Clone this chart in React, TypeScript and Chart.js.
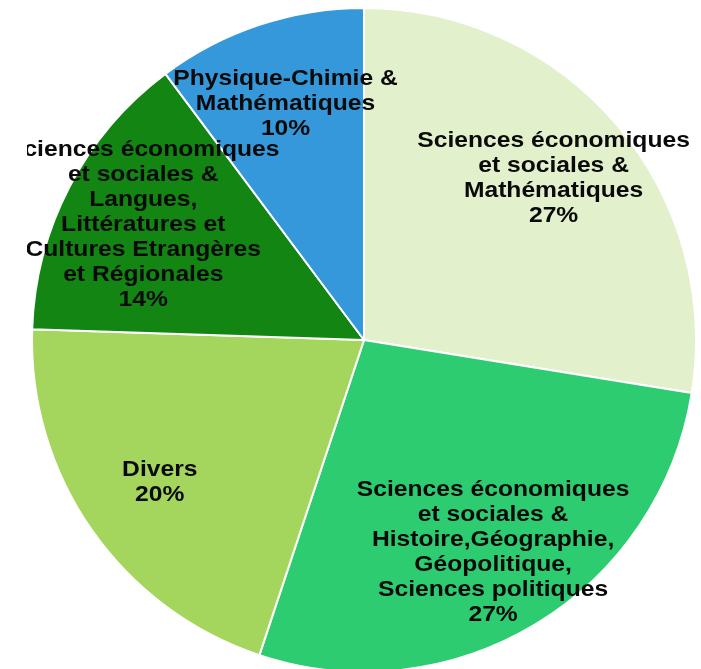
import React, { useEffect, useRef } from "react";
import { Chart, registerables } from "chart.js";

Chart.register(...registerables);

const categories: string[][] = [
  ["Sciences économiques", "et sociales &", "Mathématiques"],
  ["Sciences économiques", "et sociales &", "Histoire,Géographie,", "Géopolitique,", "Sciences politiques"],
  ["Divers"],
  ["Sciences économiques", "et sociales &", "Langues,", "Littératures et", "Cultures Etrangères", "et Régionales"],
  ["Physique-Chimie &", "Mathématiques"],
];
const values: number[] = [27, 27, 20, 14, 10];
const percentLabels: string[] = ["27%", "27%", "20%", "14%", "10%"];
const colors: string[] = ["#e2f0cc", "#2ecc71", "#a4d65e", "#128512", "#3498db"];

const labelPlugin = {
  id: "sliceLabels",
  afterDatasetsDraw(chart: any) {
    const ctx = chart.ctx;
    const meta = chart.getDatasetMeta(0);
    ctx.save();
    ctx.font = "bold 22px 'Liberation Sans', Arial, sans-serif";
    ctx.fillStyle = "#0a0a0a";
    ctx.textAlign = "center";
    ctx.textBaseline = "middle";
    const lineH = 25;
    meta.data.forEach((arc: any, i: number) => {
      const p = arc.getProps(["x", "y", "startAngle", "endAngle", "outerRadius"], true);
      const mid = (p.startAngle + p.endAngle) / 2;
      const r = p.outerRadius * 0.75;
      const cx = p.x + Math.cos(mid) * r;
      const cy = p.y + Math.sin(mid) * r;
      const lines = [...categories[i], percentLabels[i]];
      lines.forEach((line, k) => {
        const y = cy + (k - (lines.length - 1) / 2) * lineH;
        ctx.save();
        ctx.translate(cx, y);
        ctx.scale(1.12, 1);
        ctx.fillText(line, 0, 0);
        ctx.restore();
      });
    });
    ctx.restore();
  },
};

export default function App() {
  const ref = useRef<HTMLCanvasElement | null>(null);
  useEffect(() => {
    if (!ref.current) return;
    const chart = new Chart(ref.current, {
      type: "pie",
      data: {
        labels: categories.map((c) => c.join(" ")),
        datasets: [
          {
            data: values,
            backgroundColor: colors,
            borderColor: "#ffffff",
            borderWidth: 2,
          },
        ],
      },
      options: {
        responsive: false,
        animation: false,
        layout: { padding: { left: 4, right: 4, top: 7, bottom: 7 } },
        plugins: {
          legend: { display: false },
          tooltip: { enabled: false },
        },
      },
      plugins: [labelPlugin],
    });
    return () => chart.destroy();
  }, []);
  return (
    <div
      style={{
        position: "absolute",
        left: 0,
        top: 0,
        width: 701,
        height: 669,
        overflow: "hidden",
        background: "#ffffff",
      }}
    >
      <canvas
        ref={ref}
        width={674}
        height={680}
        style={{ position: "absolute", left: 27, top: 0, width: 674, height: 680 }}
      />
    </div>
  );
}
